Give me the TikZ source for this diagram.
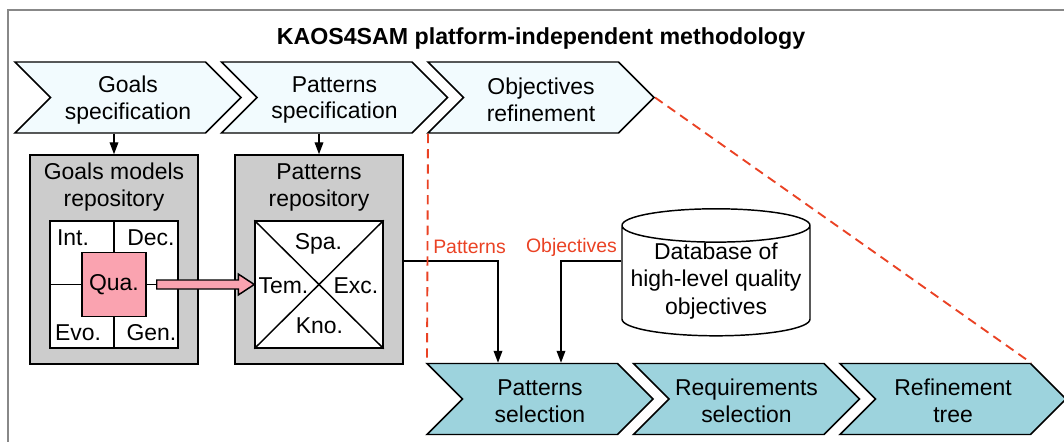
\documentclass[tikz,border=0pt]{standalone}
\usepackage{fontspec}
\setmainfont{Liberation Sans}
\usetikzlibrary{shapes.geometric, % for the cylinder
                shapes.symbols, % for the chevrons
                calc,
                arrows.meta,
                positioning}

\definecolor{topfill}{RGB}{242,251,254}
\definecolor{botfill}{RGB}{157,211,221}
\definecolor{repofill}{RGB}{204,204,204}
\definecolor{quafill}{RGB}{250,163,176}
\definecolor{dashred}{RGB}{234,66,36}
\definecolor{framegray}{RGB}{136,136,136}

\begin{document}
\begin{tikzpicture}[x=0.75pt, y=-0.75pt,
                    Step/.style={signal, signal from=west, signal to=east, signal pointer angle=90,
                                 draw, line width=1.1pt, minimum width=169.5pt, minimum height=53.25pt,
                                 inner sep=0pt},
                    Repo/.style={draw, line width=1.1pt, fill=repofill, minimum width=126pt, minimum height=156.75pt},
                    Grid/.style={draw, line width=1.1pt, fill=white, minimum width=96pt, minimum height=95.25pt},
                    Txt/.style={align=center, inner sep=0pt, font=\fontsize{17.2}{20.2}\selectfont},
                    Tag/.style={inner sep=0pt, text=dashred, font=\fontsize{14.6}{17}\selectfont},
                    flow/.style={-{Triangle[length=9pt, width=6.5pt]}, line width=1.1pt},
                    redline/.style={dashred, line width=1.4pt, dash pattern=on 7pt off 4.5pt}
                    ]

    \useasboundingbox (0,0) rectangle (1064,442);
    \draw[framegray, line width=1.6pt] (8,460) -- (8,10) -- (1080,10);

    \node[font=\bfseries\fontsize{17.4}{20}\selectfont] (title) at (541,39)
        {KAOS4SAM platform-independent methodology};

    % STEPS UP %
    \foreach \i/\txt in {1/Goals\\specification, 2/Patterns\\specification, 3/Objectives\\refinement}{
    \node[Step, fill=topfill] (t\i) at ({128+206.5*(\i-1)},97.5) {};
    \node[Txt] (t\i txt) at ($(t\i)+(0,2.5)$) {\txt};
    }

    % STEPS DOWN %
    \foreach \i/\txt in {1/Patterns\\selection, 2/Requirements\\selection, 3/Refinement\\tree}{
    \node[Step, fill=botfill] (b\i) at ({540+206.5*(\i-1)},399) {};
    \node[Txt] (b\i txt) at ($(b\i)+(0,2)$) {\txt};
    }

    % REPOSITORIES %
    \node[Repo] (grepo) at (114,259.5) {};
    \node[Repo] (prepo) at (319,259.5) {};
    \node[Txt] (grepotxt) at ($(grepo.north)+(0,33)$) {Goals models\\repository};
    \node[Txt] (prepotxt) at ($(prepo.north)+(0,33)$) {Patterns\\repository};

    \draw[flow] (grepo.north |- t1.south) -- (grepo.north);
    \draw[flow] (prepo.north |- t2.south) -- (prepo.north);

    % GOALS GRID %
    \node[Grid] (ggrid) at (114,284.5) {};
    \draw[line width=1.1pt] (ggrid.north) -- (ggrid.south);
    \draw[line width=1.1pt] (ggrid.west) -- (ggrid.east);
    \node[draw, line width=1.1pt, fill=quafill, minimum size=48pt, inner sep=0pt,
          font=\fontsize{17.2}{20}\selectfont] (qua) at (ggrid.center) {Qua.};
    \foreach \name/\txt/\x/\y in {int/Int./73/238, dec/Dec./151/238, evo/Evo./78/333, gen/Gen./151.5/333}
    \node[Txt] (\name) at (\x,\y) {\txt};

    % PATTERNS GRID %
    \node[Grid] (pgrid) at (319,284.5) {};
    \draw[line width=1.1pt] (pgrid.north west) -- (pgrid.south east);
    \draw[line width=1.1pt] (pgrid.south west) -- (pgrid.north east);
    \foreach \name/\txt/\x/\y in {spa/Spa./318.5/244, tem/Tem./283.5/286, exc/Exc./356/286, kno/Kno./319.5/326}
    \node[Txt] (\name) at (\x,\y) {\txt};

    % PINK ARROW %
    \draw[line width=1.1pt, fill=quafill]
        ($(qua.east)+(10,-4.5)$) -- ($(pgrid.west)+(-16,-4.5)$) -- ($(pgrid.west)+(-16,-10.5)$)
        -- (pgrid.west) -- ($(pgrid.west)+(-16,10.5)$) -- ($(pgrid.west)+(-16,4.5)$)
        -- ($(qua.east)+(10,4.5)$) -- cycle;

    % DATABASE %
    \node[cylinder, shape border rotate=90, draw, line width=1.1pt, aspect=0.195,
          minimum width=141pt, minimum height=78pt, inner sep=0pt,
          align=center, font=\fontsize{17.2}{20.6}\selectfont] (db) at (716,281)
        {Database of\\high-level quality\\objectives};

    \coordinate (lvl) at (0,261);
    \draw[flow] (prepo.east |- lvl) -| ($(b1.north)+(-42,0)$);
    \draw[flow] (db.west |- lvl) -| ($(b1.north)+(21,0)$);
    \node[Tag] (pattag) at (469.5,247) {Patterns};
    \node[Tag] (objtag) at (571.5,247) {Objectives};

    % REFINEMENT %
    \draw[redline] ($(t3.south)+(-113,0)$) -- ($(b1.north)+(-113,0)$);
    \draw[redline] (t3.east) -- ($(b3.north)+(78,0)$);
\end{tikzpicture}
\end{document}
